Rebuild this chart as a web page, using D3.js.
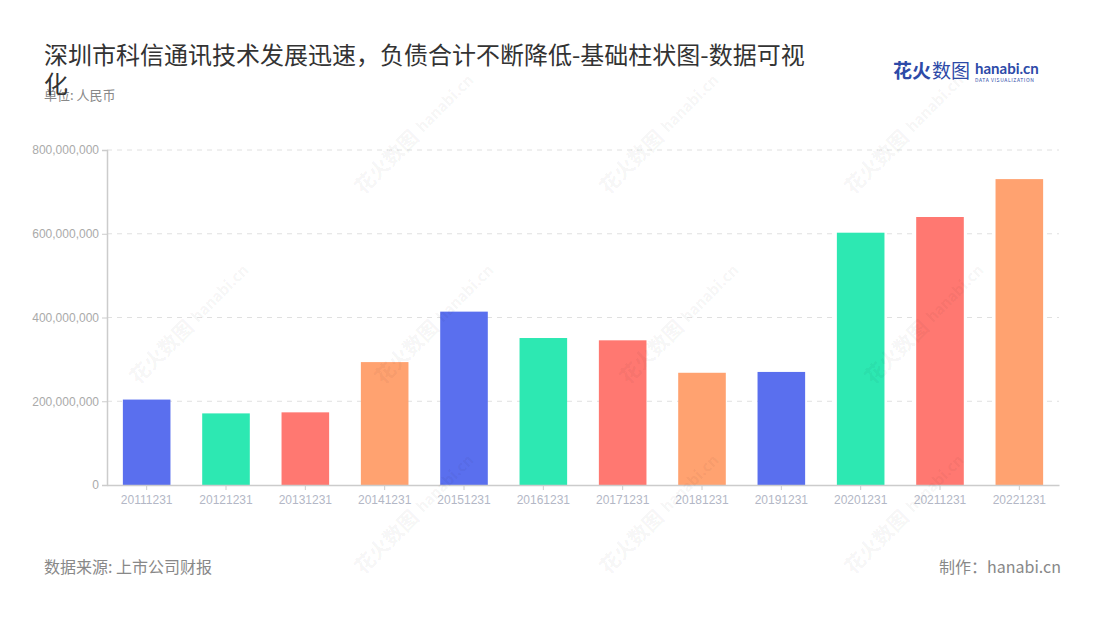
<!DOCTYPE html>
<html>
<head>
<meta charset="utf-8">
<script src="https://cdn.jsdelivr.net/npm/d3@7"></script>
<style>
  body { margin: 0; background: #fff; }
  svg { font-family: "Noto Sans CJK SC", "Noto Sans", sans-serif; }
</style>
</head>
<body>
<svg id="chart" width="1100" height="620"></svg>
<script>
const categories = ["20111231","20121231","20131231","20141231","20151231","20161231",
  "20171231","20181231","20191231","20201231","20211231","20221231"];
const liabilities = [204000000, 171000000, 173500000, 293500000, 414000000, 351000000,
  345500000, 268000000, 270000000, 602500000, 640000000, 730500000];
const yTicks = [0, 200000000, 400000000, 600000000, 800000000];
const palette = ["#5a6fee", "#2de8b2", "#ff7871", "#ffa270"];

const margin = {top: 150, right: 41, bottom: 135, left: 107};
const width = 1100, height = 620;

const svg = d3.select("#chart");

// watermarks (behind everything else is not how the source does it, it paints them on top;
// they are faint enough that either order looks the same)
const wmPos = [];
[150, 340, 530].forEach((yy, ri) => {
  const start = ri % 2 === 0 ? 400 : 175;
  for (let xx = start; xx < 1000; xx += 245) wmPos.push([xx, yy]);
});

// titles
svg.append("text").attr("x", 44).attr("y", 64)
  .attr("font-size", 24).attr("fill", "#333")
  .text("深圳市科信通讯技术发展迅速，负债合计不断降低-基础柱状图-数据可视");
svg.append("text").attr("x", 44).attr("y", 100)
  .attr("font-size", 13).attr("fill", "#888")
  .text("单位: 人民币");
svg.append("text").attr("x", 44).attr("y", 93)
  .attr("font-size", 24).attr("fill", "#333")
  .text("化");

// logo
const logo = svg.append("g").attr("transform", "translate(893,80)");
logo.append("text").attr("x", 0).attr("y", -2)
  .attr("font-size", 19).attr("font-weight", 700).attr("fill", "#2d4aa8")
  .text("花火");
logo.append("text").attr("x", 39).attr("y", -2)
  .attr("font-size", 19).attr("fill", "#2d4aa8")
  .text("数图");
logo.append("text").attr("x", 82).attr("y", -6)
  .attr("font-size", 15).attr("font-weight", 700).attr("fill", "#2d4aa8")
  .attr("font-family", "Lato, sans-serif")
  .text("hanabi.cn");
logo.append("text").attr("x", 82).attr("y", 2)
  .attr("font-size", 5).attr("fill", "#2d4aa8").attr("letter-spacing", 0.6)
  .text("DATA VISUALIZATION");

const x = d3.scaleBand()
  .domain(categories)
  .range([margin.left, width - margin.right])
  .paddingInner(0.4)
  .paddingOuter(0.2);

const y = d3.scaleLinear()
  .domain([0, 800000000])
  .range([height - margin.bottom, margin.top]);

// grid
svg.append("g").selectAll("line")
  .data(yTicks.filter(d => d > 0))
  .join("line")
  .attr("x1", margin.left).attr("x2", width - margin.right)
  .attr("y1", d => y(d)).attr("y2", d => y(d))
  .attr("stroke", "#e0e0e0").attr("stroke-dasharray", "5,5");

// bars
svg.append("g").selectAll("rect")
  .data(liabilities)
  .join("rect")
  .attr("x", (d, i) => x(categories[i]))
  .attr("y", d => y(d))
  .attr("width", x.bandwidth())
  .attr("height", d => y(0) - y(d))
  .attr("fill", (d, i) => palette[i % 4]);

// axes
const yAxis = svg.append("g")
  .attr("transform", `translate(${margin.left},0)`)
  .call(d3.axisLeft(y).tickValues(yTicks).tickFormat(d3.format(",")).tickSize(5).tickPadding(3));
yAxis.select(".domain").attr("stroke", "#ccc").attr("stroke-width", 1.5);
yAxis.selectAll(".tick line").attr("stroke", "#ccc");
yAxis.selectAll("text").attr("fill", "#aaa").attr("font-size", 12);

const xAxis = svg.append("g")
  .attr("transform", `translate(0,${y(0)})`)
  .call(d3.axisBottom(x).tickSize(5).tickPadding(5).tickSizeOuter(0));
xAxis.select(".domain").attr("stroke", "#ccc").attr("stroke-width", 1.5);
xAxis.selectAll(".tick line").attr("stroke", "#ccc");
xAxis.selectAll("text").attr("fill", "#b3b7c6").attr("font-size", 12);

const wm = svg.append("g").attr("pointer-events", "none");
wm.selectAll("g").data(wmPos).join("g")
  .attr("transform", d => `translate(${d[0]},${d[1]}) rotate(-45)`)
  .each(function() {
    const g = d3.select(this);
    g.append("text").attr("x", -58).attr("y", 6)
      .attr("font-size", 20).attr("font-weight", 700).attr("fill", "rgba(0,0,0,0.055)")
      .text("花火数图");
    g.append("text").attr("x", 28).attr("y", 4)
      .attr("font-size", 15).attr("font-weight", 700).attr("fill", "rgba(0,0,0,0.055)")
      .text("hanabi.cn");
  });

// footer
svg.append("text").attr("x", 44).attr("y", 573)
  .attr("font-size", 16).attr("fill", "#888")
  .text("数据来源: 上市公司财报");
svg.append("text").attr("x", 1061).attr("y", 573)
  .attr("text-anchor", "end").attr("font-size", 16).attr("fill", "#888")
  .text("制作：hanabi.cn");
</script>
</body>
</html>
